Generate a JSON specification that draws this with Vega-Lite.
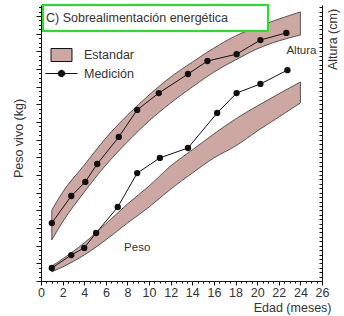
{
  "$schema": "https://vega.github.io/schema/vega-lite/v6.json",
  "width": 281,
  "height": 276,
  "autosize": {"type": "none"},
  "padding": {"left": 41, "top": 5, "right": 22, "bottom": 35},
  "background": "white",
  "config": {
    "view": {"stroke": null},
    "font": "Liberation Sans",
    "axis": {
      "domainColor": "#111",
      "tickColor": "#111",
      "labelColor": "#333",
      "labelFont": "Liberation Sans",
      "labelFontSize": 12.5,
      "titleFont": "Liberation Sans",
      "titleFontSize": 12.5,
      "titleFontWeight": "normal",
      "titleColor": "#333",
      "grid": false,
      "labelPadding": 1,
      "labelOverlap": false,
      "labelFlush": false,
      "tickCount": 200
    }
  },
  "datasets": {
    "bandas": [
      {"serie": "Altura", "tipo": "Estandar", "edad": 1, "inf": 14.9, "sup": 25.7},
      {"serie": "Altura", "tipo": "Estandar", "edad": 2, "inf": 21.4, "sup": 32.2},
      {"serie": "Altura", "tipo": "Estandar", "edad": 4, "inf": 32.2, "sup": 42.0},
      {"serie": "Altura", "tipo": "Estandar", "edad": 6, "inf": 42.0, "sup": 51.8},
      {"serie": "Altura", "tipo": "Estandar", "edad": 8, "inf": 50.4, "sup": 60.1},
      {"serie": "Altura", "tipo": "Estandar", "edad": 10, "inf": 58.0, "sup": 67.4},
      {"serie": "Altura", "tipo": "Estandar", "edad": 12, "inf": 64.5, "sup": 73.9},
      {"serie": "Altura", "tipo": "Estandar", "edad": 14, "inf": 70.3, "sup": 79.3},
      {"serie": "Altura", "tipo": "Estandar", "edad": 16, "inf": 75.7, "sup": 84.4},
      {"serie": "Altura", "tipo": "Estandar", "edad": 18, "inf": 80.1, "sup": 88.8},
      {"serie": "Altura", "tipo": "Estandar", "edad": 20, "inf": 84.1, "sup": 92.0},
      {"serie": "Altura", "tipo": "Estandar", "edad": 22, "inf": 87.0, "sup": 94.9},
      {"serie": "Altura", "tipo": "Estandar", "edad": 24, "inf": 89.1, "sup": 97.5},
      {"serie": "Peso", "tipo": "Estandar", "edad": 1, "inf": 3.3, "sup": 5.4},
      {"serie": "Peso", "tipo": "Estandar", "edad": 2, "inf": 5.1, "sup": 8.0},
      {"serie": "Peso", "tipo": "Estandar", "edad": 4, "inf": 9.4, "sup": 13.8},
      {"serie": "Peso", "tipo": "Estandar", "edad": 6, "inf": 14.9, "sup": 20.7},
      {"serie": "Peso", "tipo": "Estandar", "edad": 8, "inf": 21.0, "sup": 27.9},
      {"serie": "Peso", "tipo": "Estandar", "edad": 10, "inf": 26.8, "sup": 34.4},
      {"serie": "Peso", "tipo": "Estandar", "edad": 12, "inf": 33.3, "sup": 41.7},
      {"serie": "Peso", "tipo": "Estandar", "edad": 14, "inf": 39.1, "sup": 47.5},
      {"serie": "Peso", "tipo": "Estandar", "edad": 16, "inf": 44.6, "sup": 53.3},
      {"serie": "Peso", "tipo": "Estandar", "edad": 18, "inf": 48.9, "sup": 58.7},
      {"serie": "Peso", "tipo": "Estandar", "edad": 20, "inf": 54.3, "sup": 63.4},
      {"serie": "Peso", "tipo": "Estandar", "edad": 22, "inf": 59.4, "sup": 67.8},
      {"serie": "Peso", "tipo": "Estandar", "edad": 24, "inf": 64.5, "sup": 72.1}
    ],
    "medicion": [
      {"serie": "Altura", "tipo": "Medición", "edad": 1.0, "valor": 21.0},
      {"serie": "Altura", "tipo": "Medición", "edad": 2.8, "valor": 30.8},
      {"serie": "Altura", "tipo": "Medición", "edad": 4.1, "valor": 35.9},
      {"serie": "Altura", "tipo": "Medición", "edad": 5.2, "valor": 42.4},
      {"serie": "Altura", "tipo": "Medición", "edad": 7.2, "valor": 52.2},
      {"serie": "Altura", "tipo": "Medición", "edad": 8.9, "valor": 62.0},
      {"serie": "Altura", "tipo": "Medición", "edad": 10.9, "valor": 68.1},
      {"serie": "Altura", "tipo": "Medición", "edad": 13.6, "valor": 75.0},
      {"serie": "Altura", "tipo": "Medición", "edad": 15.4, "valor": 79.7},
      {"serie": "Altura", "tipo": "Medición", "edad": 18.1, "valor": 82.2},
      {"serie": "Altura", "tipo": "Medición", "edad": 20.3, "valor": 87.3},
      {"serie": "Altura", "tipo": "Medición", "edad": 22.7, "valor": 89.9},
      {"serie": "Peso", "tipo": "Medición", "edad": 1.0, "valor": 4.7},
      {"serie": "Peso", "tipo": "Medición", "edad": 2.8, "valor": 9.4},
      {"serie": "Peso", "tipo": "Medición", "edad": 4.0, "valor": 12.0},
      {"serie": "Peso", "tipo": "Medición", "edad": 5.1, "valor": 17.4},
      {"serie": "Peso", "tipo": "Medición", "edad": 7.1, "valor": 26.8},
      {"serie": "Peso", "tipo": "Medición", "edad": 8.9, "valor": 39.1},
      {"serie": "Peso", "tipo": "Medición", "edad": 11.0, "valor": 44.6},
      {"serie": "Peso", "tipo": "Medición", "edad": 13.6, "valor": 48.2},
      {"serie": "Peso", "tipo": "Medición", "edad": 16.3, "valor": 60.9},
      {"serie": "Peso", "tipo": "Medición", "edad": 18.1, "valor": 68.1},
      {"serie": "Peso", "tipo": "Medición", "edad": 20.3, "valor": 71.4},
      {"serie": "Peso", "tipo": "Medición", "edad": 22.8, "valor": 76.4}
    ],
    "titulo": [{"texto": "C) Sobrealimentación energética"}],
    "etiquetas": [{"texto": "Altura"}, {"texto": "Peso"}]
  },
  "layer": [
    {
      "layer": [
        {
          "data": {"name": "bandas"},
          "mark": {"type": "area", "interpolate": "monotone", "stroke": "#333", "strokeWidth": 0.8},
          "encoding": {
            "x": {"field": "edad", "type": "quantitative", "scale": {"domain": [0, 26], "nice": false, "zero": false},
              "axis": {"title": "Edad (meses)", "tickCount": 200, "values": [0,0.5,1,1.5,2,2.5,3,3.5,4,4.5,5,5.5,6,6.5,7,7.5,8,8.5,9,9.5,10,10.5,11,11.5,12,12.5,13,13.5,14,14.5,15,15.5,16,16.5,17,17.5,18,18.5,19,19.5,20,20.5,21,21.5,22,22.5,23,23.5,24,24.5,25,25.5,26],
                "labelExpr": "datum.value % 2 === 0 ? '' + datum.value : ''", "labelOverlap": false, "labelFlush": false,
                "tickSize": {"condition": {"test": "datum.value % 2 === 0", "value": 4}, "value": 2},
                "titleX": 290, "titleY": 26, "titleAlign": "right", "titleAnchor": null, "titleBaseline": "middle"}},
            "y": {"field": "inf", "type": "quantitative", "scale": {"domain": [0, 100], "nice": false, "zero": false},
              "axis": {"orient": "left", "title": "Peso vivo (kg)", "labels": false, "tickCount": 200,
                "values": [0,1.6,3.2,4.8,6.4,8,9.6,11.2,12.8,14.4,16,17.6,19.2,20.8,22.4,24,25.6,27.2,28.8,30.4,32,33.6,35.2,36.8,38.4,40,41.6,43.2,44.8,46.4,48,49.6,51.2,52.8,54.4,56,57.6,59.2,60.8,62.4,64,65.6,67.2,68.8,70.4,72,73.6,75.2,76.8,78.4,80,81.6,83.2,84.8,86.4,88,89.6,91.2,92.8,94.4,96,97.6,99.2],
                "tickSize": {"condition": {"test": "round(datum.value/1.6) % 4 === 0", "value": 5}, "value": 2.5},
                "titleX": -23, "titleY": 133, "titleAngle": 270, "titleAlign": "center", "titleBaseline": "middle", "titleAnchor": null}},
            "y2": {"field": "sup"},
            "detail": {"field": "serie"},
            "fill": {"field": "tipo", "type": "nominal",
              "scale": {"domain": ["Estandar", "Medición"], "range": ["#cda8a2", "#111111"]},
              "legend": {"orient": "none", "legendX": 11.5, "legendY": 41, "title": null, "padding": 0,
                "symbolSize": 289, "labelOffset": 13.5, "rowPadding": 0.5,
                "labelFont": "Liberation Sans", "labelFontSize": 12.5, "labelColor": "#333",
                "symbolStrokeColor": "#111", "symbolStrokeWidth": 1,
                "encode": {"symbols": {"update": {
                  "shape": {"signal": "datum.value === 'Estandar' ? 'M-1.235,-0.765H1.235V0.765H-1.235Z' : 'M-1.88,0H1.88M0.37,0.153L0.153,0.37L-0.153,0.37L-0.37,0.153L-0.37,-0.153L-0.153,-0.37L0.153,-0.37L0.37,-0.153Z'"},
                  "size": {"value": 289},
                  "stroke": {"value": "#111"},
                  "strokeWidth": {"value": 1},
                  "opacity": {"value": 1},
                  "fillOpacity": {"value": 1}
                }}}}}
          }
        },
        {
          "data": {"name": "titulo"},
          "mark": {"type": "rect", "fill": "white", "stroke": "#1ee61e", "strokeWidth": 2},
          "encoding": {
            "x": {"datum": 0.19, "type": "quantitative"},
            "x2": {"datum": 21.0},
            "y": {"datum": 90.6, "type": "quantitative", "scale": {"domain": [0, 100], "nice": false, "zero": false}},
            "y2": {"datum": 100}
          }
        },
        {
          "data": {"name": "titulo"},
          "mark": {"type": "text", "align": "left", "baseline": "middle", "fontSize": 12.5, "color": "#333", "font": "Liberation Sans"},
          "encoding": {
            "x": {"datum": 0.46, "type": "quantitative"},
            "y": {"datum": 95.3, "type": "quantitative"},
            "text": {"field": "texto"}
          }
        },
        {
          "data": {"name": "etiquetas"},
          "transform": [{"filter": "datum.texto === 'Altura'"}],
          "mark": {"type": "text", "align": "center", "baseline": "middle", "fontSize": 11.5, "color": "#333", "font": "Liberation Sans"},
          "encoding": {
            "x": {"datum": 24.1, "type": "quantitative"},
            "y": {"datum": 83.3, "type": "quantitative"},
            "text": {"field": "texto"}
          }
        },
        {
          "data": {"name": "etiquetas"},
          "transform": [{"filter": "datum.texto === 'Peso'"}],
          "mark": {"type": "text", "align": "center", "baseline": "middle", "fontSize": 11.5, "color": "#333", "font": "Liberation Sans"},
          "encoding": {
            "x": {"datum": 8.9, "type": "quantitative"},
            "y": {"datum": 12.0, "type": "quantitative"},
            "text": {"field": "texto"}
          }
        }
      ]
    },
    {
      "data": {"name": "medicion"},
      "layer": [
        {
          "mark": {"type": "line", "color": "#111", "strokeWidth": 1},
          "encoding": {
            "x": {"field": "edad", "type": "quantitative"},
            "y": {"field": "valor", "type": "quantitative", "scale": {"domain": [0, 100], "nice": false, "zero": false},
              "axis": {"orient": "right", "title": "Altura (cm)", "labels": false, "tickCount": 200,
                "values": [0,1.6,3.2,4.8,6.4,8,9.6,11.2,12.8,14.4,16,17.6,19.2,20.8,22.4,24,25.6,27.2,28.8,30.4,32,33.6,35.2,36.8,38.4,40,41.6,43.2,44.8,46.4,48,49.6,51.2,52.8,54.4,56,57.6,59.2,60.8,62.4,64,65.6,67.2,68.8,70.4,72,73.6,75.2,76.8,78.4,80,81.6,83.2,84.8,86.4,88,89.6,91.2,92.8,94.4,96,97.6,99.2],
                "tickSize": -3,
                "titleX": 10, "titleY": 34, "titleAngle": 270, "titleAlign": "center", "titleBaseline": "middle", "titleAnchor": null}},
            "detail": {"field": "serie"}
          }
        },
        {
          "mark": {"type": "point", "shape": "circle", "filled": true, "size": 40, "opacity": 1},
          "encoding": {
            "x": {"field": "edad", "type": "quantitative"},
            "y": {"field": "valor", "type": "quantitative"},
            "fill": {"field": "tipo", "type": "nominal"}
          }
        }
      ]
    }
  ],
  "resolve": {"scale": {"y": "independent"}}
}
